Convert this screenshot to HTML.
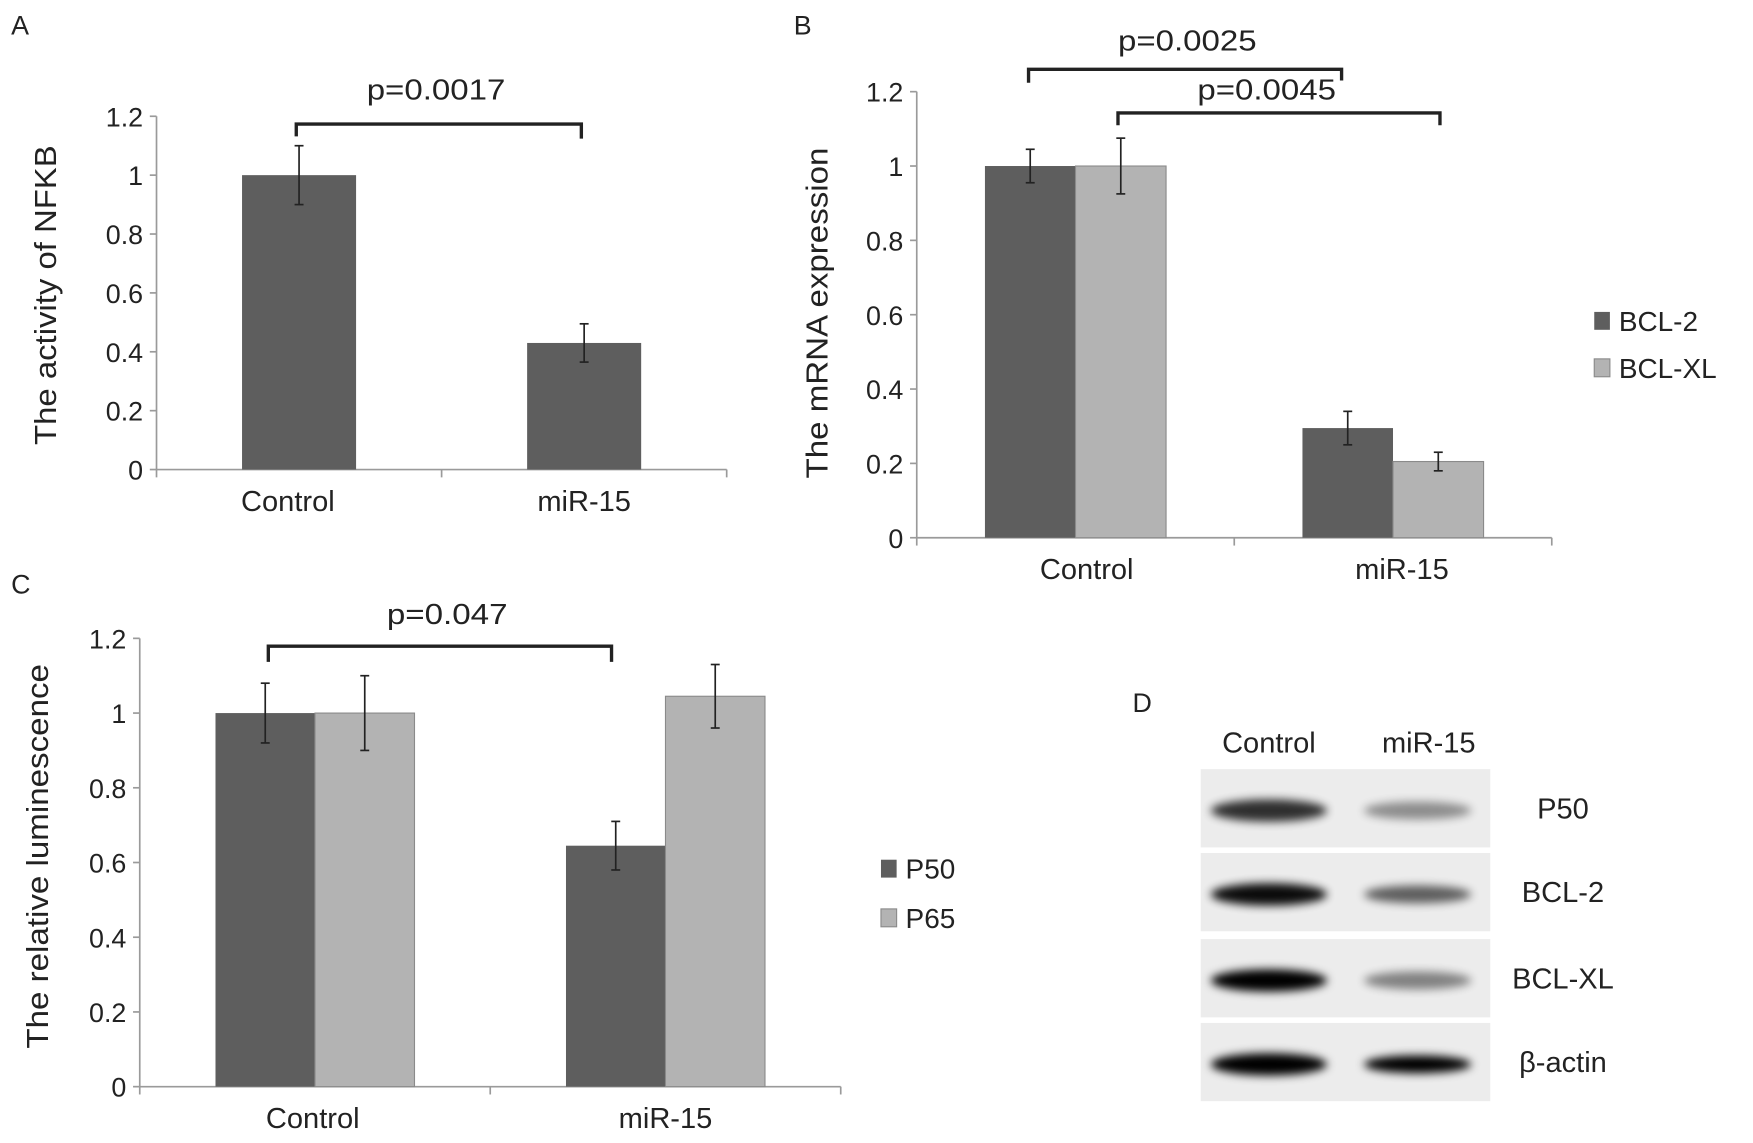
<!DOCTYPE html>
<html><head><meta charset="utf-8"><style>
html,body{margin:0;padding:0;background:#fff;}
svg{display:block;font-family:"Liberation Sans",Arial,sans-serif;}
</style></head><body>
<svg id="fig" width="1753" height="1143" viewBox="0 0 1568 1022.4" preserveAspectRatio="none" xmlns="http://www.w3.org/2000/svg">
<defs>
<filter id="blur" x="-20%" y="-50%" width="140%" height="200%"><feGaussianBlur stdDeviation="4"/></filter>
</defs>
</svg>
<script>
// ---- data ----
const categories = ["Control","miR-15"];
const aValues = [1.0, 0.43];
const aErrors = [0.1, 0.065];
const bSeriesNames = ["BCL-2","BCL-XL"];
const bBcl2 = [1.0, 0.295];
const bBcl2Err = [0.045, 0.045];
const bBclxl = [1.0, 0.205];
const bBclxlErr = [0.075, 0.025];
const cSeriesNames = ["P50","P65"];
const cP50 = [1.0, 0.645];
const cP50Err = [0.08, 0.065];
const cP65 = [1.0, 1.045];
const cP65Err = [0.1, 0.085];
const yTicks = [0,0.2,0.4,0.6,0.8,1,1.2];
const yTickLabels = ["0","0.2","0.4","0.6","0.8","1","1.2"];
const blotProteins = ["P50","BCL-2","BCL-XL","β-actin"];
const blotControl = [0.8, 0.95, 1.0, 1.0];
const blotMir = [0.4, 0.6, 0.45, 1.0];

const svg = document.getElementById('fig');
const NS = "http://www.w3.org/2000/svg";
function el(tag, attrs, parent){
  const e = document.createElementNS(NS, tag);
  for (const k in attrs) e.setAttribute(k, attrs[k]);
  (parent||svg).appendChild(e);
  return e;
}
function txt(s, x, y, size, anchor, parent, rot, len){
  const t = el('text', {x:x, y:y, 'font-size':size, 'text-anchor':anchor||'middle', fill:'#222'}, parent);
  if (len) { t.setAttribute('textLength', len); t.setAttribute('lengthAdjust', 'spacingAndGlyphs'); }
  if (rot) t.setAttribute('transform', 'rotate(-90 '+x+' '+y+')');
  t.textContent = s;
  return t;
}
const DARK = '#5e5e5e', LIGHT = '#b3b3b3', AXIS = '#9a9a9a';

function panel(cfg){
  const g = el('g', {});
  
  
  const y = v => cfg.y0 + (cfg.y12 - cfg.y0) * v / 1.2;
  const ya = el('line', {x1:cfg.x0, y1:cfg.y12, x2:cfg.x0, y2:cfg.y0, stroke:AXIS, 'stroke-width':1.5}, g);
  
  
  yTicks.forEach((t, i) => {
    el('line', {x1:cfg.x0-6, y1:y(t), x2:cfg.x0, y2:y(t), stroke:AXIS, 'stroke-width':1.5}, g);
    const lt = txt(yTickLabels[i], cfg.x0-12, y(t)+9, 24, 'end', g);
    
    
  });
  const xa = el('line', {x1:cfg.x0, y1:cfg.y0, x2:cfg.x1, y2:cfg.y0, stroke:AXIS, 'stroke-width':1.5}, g);
  
  
  const n = categories.length, cw = (cfg.x1 - cfg.x0) / n;
  for (let i = 0; i <= n; i++) el('line', {x1:cfg.x0+cw*i, y1:cfg.y0, x2:cfg.x0+cw*i, y2:cfg.y0+7, stroke:AXIS, 'stroke-width':1.5}, g);
  const nS = cfg.series.length;
  categories.forEach((c, i) => {
    const cx = cfg.x0 + cw*(i+0.5);
    const cl = txt(c, cx + cfg.catDx[i], cfg.y0+37, 26, 'middle', g);
    
    
    cfg.series.forEach((s, j) => {
      const left = cx - cfg.bw*nS/2 + cfg.bw*j;
      const v = s.vals[i], e = s.errs[i];
      const r = el('rect', {x:left, y:y(v), width:cfg.bw, height:cfg.y0 - y(v), fill:s.color, stroke: s.color===LIGHT?'#8a8a8a':'none', 'stroke-width':1}, g);
      
      
      const mx = left + cfg.bw/2;
      el('line', {x1:mx, y1:y(v+e), x2:mx, y2:y(v-e), stroke:'#222', 'stroke-width':1.5}, g);
      el('line', {x1:mx-4, y1:y(v+e), x2:mx+4, y2:y(v+e), stroke:'#222', 'stroke-width':1.5}, g);
      el('line', {x1:mx-4, y1:y(v-e), x2:mx+4, y2:y(v-e), stroke:'#222', 'stroke-width':1.5}, g);
    });
  });
  const title = txt(cfg.title, cfg.titleX, cfg.titleY, 27, 'middle', g, true, cfg.titleLen);
  
  
  cfg.brackets.forEach(b => {
    const p = el('path', {d:'M'+b.x1+' '+b.yl+' L'+b.x1+' '+b.y+' L'+b.x2+' '+b.y+' L'+b.x2+' '+b.yr, fill:'none', stroke:'#222', 'stroke-width':3}, g);
    
    
    const pt = txt(b.label, b.tx, b.ty, 26, 'middle', g, false, b.len);
    
    
  });
  if (cfg.legend) {
    cfg.series.forEach((s, j) => {
      const ly = cfg.legend.y + j*cfg.legend.dy;
      const sq = el('rect', {x:cfg.legend.x, y:ly-8, width:14, height:16, fill:s.color, stroke:s.color===LIGHT?'#8a8a8a':'none'}, g);
      
      
      const lt = txt(s.name, cfg.legend.x+22, ly+9, 25, 'start', g);
      
      
    });
  }
  const pl = txt(cfg.letter, cfg.letterX, cfg.letterY, 24, 'start', g);
  
  
}

panel({name:'panel-a-chart', x0:140, x1:650, y0:420, y12:104, bw:102, catDx:[-10,0],
  series:[{name:'NFKB', vals:aValues, errs:aErrors, color:DARK}],
  title:'The activity of NFKB', titleX:50, titleY:264, titleLen:268,
  brackets:[{x1:265, x2:520, y:111, yl:122, yr:124, label:'p=0.0017', tx:390, ty:89, len:124}],
  letter:'A', letterX:10, letterY:31});

panel({name:'panel-b-chart', x0:820, x1:1388, y0:481, y12:82, bw:81, catDx:[10,8],
  series:[{name:bSeriesNames[0], vals:bBcl2, errs:bBcl2Err, color:DARK},{name:bSeriesNames[1], vals:bBclxl, errs:bBclxlErr, color:LIGHT}],
  title:'The mRNA expression', titleX:740, titleY:280, titleLen:296,
  brackets:[{x1:920, x2:1200, y:62, yl:74, yr:72, label:'p=0.0025', tx:1062, ty:45, len:124},
            {x1:1000, x2:1288, y:101, yl:112, yr:112, label:'p=0.0045', tx:1133, ty:89, len:124}],
  legend:{x:1426, y:287, dy:42},
  letter:'B', letterX:710, letterY:31});

panel({name:'panel-c-chart', x0:125, x1:752, y0:972, y12:571, bw:89, catDx:[-2,0],
  series:[{name:cSeriesNames[0], vals:cP50, errs:cP50Err, color:DARK},{name:cSeriesNames[1], vals:cP65, errs:cP65Err, color:LIGHT}],
  title:'The relative luminescence', titleX:43, titleY:766, titleLen:344,
  brackets:[{x1:240, x2:547, y:578, yl:592, yr:592, label:'p=0.047', tx:400, ty:558, len:108}],
  legend:{x:788, y:777, dy:44},
  letter:'C', letterX:10, letterY:531});

// ---- panel D: western blot ----
const gd = el('g', {});


const dl = txt('D', 1013, 637, 24, 'start', gd);


const h1 = txt('Control', 1135, 673, 26, 'middle', gd);


const h2 = txt('miR-15', 1278, 673, 26, 'middle', gd);


const rowTops = [688, 763, 840, 915];
blotProteins.forEach((p, i) => {
  const top = rowTops[i], h = 70;
  const r = el('rect', {x:1074, y:top, width:259, height:h, fill:'#ececec'}, gd);
  
  
  const cy = top + h/2 + 2;
  const b1 = el('ellipse', {cx:1135, cy:cy, rx:52, ry:10, fill:'#000', opacity:blotControl[i], filter:'url(#blur)'}, gd);
  
  
  const b2 = el('ellipse', {cx:1268, cy:cy, rx:48, ry:8, fill:'#000', opacity:blotMir[i], filter:'url(#blur)'}, gd);
  
  
  const lt = txt(p, 1398, top + h/2 + 9, 26, 'middle', gd);
  
  
});
</script>
</body></html>
